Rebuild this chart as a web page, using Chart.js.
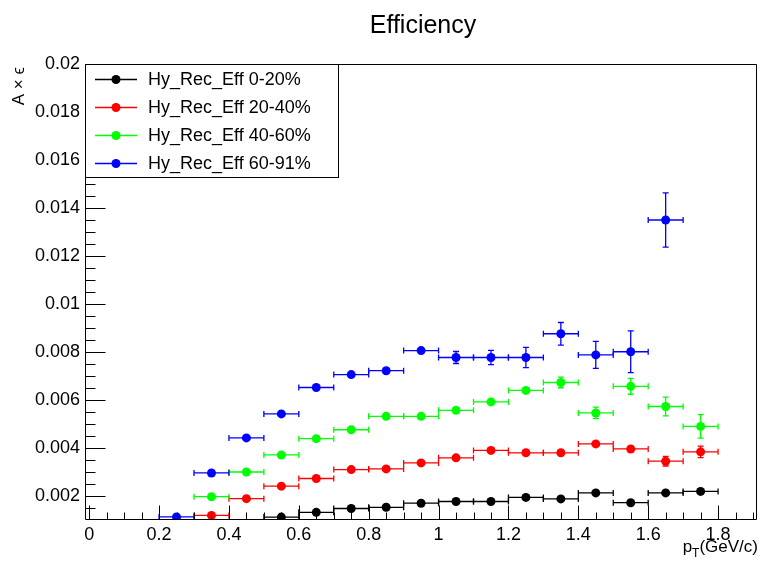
<!DOCTYPE html>
<html>
<head>
<meta charset="utf-8">
<script src="https://cdn.jsdelivr.net/npm/chart.js@4/dist/chart.umd.min.js"></script>
<style>
  html, body { margin: 0; padding: 0; background: #ffffff; }
  #wrap { width: 761px; height: 563px; }
</style>
</head>
<body>
<div id="wrap"><canvas id="c" width="761" height="563"></canvas></div>
<script>
// pT bin centres (GeV/c) and half bin width
const binCenters = [0.25, 0.35, 0.45, 0.55, 0.65, 0.75, 0.85, 0.95, 1.05, 1.15, 1.25, 1.35, 1.45, 1.55, 1.65, 1.75];
const binHalfWidth = 0.05;

// Series names per centrality class
const seriesLabels = ["Hy_Rec_Eff 0-20%", "Hy_Rec_Eff 20-40%", "Hy_Rec_Eff 40-60%", "Hy_Rec_Eff 60-91%"];
const seriesColors = ["#000000", "#ff0000", "#00ff00", "#0000ff"];

// Acceptance x efficiency per bin (null = empty bin)
const eff0to20  = [null, null, null, 0.00112, 0.00132, 0.00148, 0.00153, 0.00170, 0.00177, 0.00177, 0.00194, 0.00188, 0.00213, 0.00172, 0.00213, 0.00219];
const eff20to40 = [null, 0.00119, 0.00189, 0.00241, 0.00273, 0.00310, 0.00313, 0.00338, 0.00359, 0.00390, 0.00380, 0.00380, 0.00417, 0.00396, 0.00345, 0.00384];
const eff40to60 = [null, 0.00197, 0.00300, 0.00371, 0.00439, 0.00476, 0.00532, 0.00532, 0.00557, 0.00592, 0.00640, 0.00673, 0.00546, 0.00657, 0.00573, 0.00490];
const eff60to91 = [0.00113, 0.00296, 0.00442, 0.00542, 0.00652, 0.00706, 0.00722, 0.00806, 0.00777, 0.00777, 0.00777, 0.00876, 0.00788, 0.00801, 0.01350, null];

// Statistical uncertainties on the efficiency
const err0to20  = [null, null, null, 0.00004, 0.00005, 0.00005, 0.00005, 0.00006, 0.00006, 0.00006, 0.00007, 0.00007, 0.00008, 0.00008, 0.00009, 0.00010];
const err20to40 = [null, 0.00005, 0.00007, 0.00008, 0.00009, 0.00010, 0.00010, 0.00011, 0.00012, 0.00013, 0.00013, 0.00014, 0.00016, 0.00017, 0.00020, 0.00024];
const err40to60 = [null, 0.00007, 0.00008, 0.00009, 0.00010, 0.00011, 0.00012, 0.00012, 0.00013, 0.00014, 0.00017, 0.00022, 0.00024, 0.00033, 0.00039, 0.00049];
const err60to91 = [0.00006, 0.00009, 0.00011, 0.00012, 0.00014, 0.00015, 0.00016, 0.00018, 0.00025, 0.00030, 0.00042, 0.00047, 0.00056, 0.00087, 0.00113, null];

// Axis ticks
const xTickValues = [0, 0.2, 0.4, 0.6, 0.8, 1.0, 1.2, 1.4, 1.6, 1.8];
const xTickLabels = ["0", "0.2", "0.4", "0.6", "0.8", "1", "1.2", "1.4", "1.6", "1.8"];
const yTickValues = [0.002, 0.004, 0.006, 0.008, 0.010, 0.012, 0.014, 0.016, 0.018, 0.020];
const yTickLabels = ["0.002", "0.004", "0.006", "0.008", "0.01", "0.012", "0.014", "0.016", "0.018", "0.02"];

const FONT = "'Liberation Sans', Arial, Helvetica, sans-serif";
const MARKER_R = 4.5;

function buildPoints(vals, errs) {
  const pts = [];
  binCenters.forEach((x, i) => {
    if (vals[i] !== null) pts.push({ x: x, y: vals[i], yErr: errs[i] });
  });
  return pts;
}

const valueSets = [eff0to20, eff20to40, eff40to60, eff60to91];
const errorSets = [err0to20, err20to40, err40to60, err60to91];

const datasets = seriesLabels.map((label, k) => ({
  label: label,
  data: buildPoints(valueSets[k], errorSets[k]),
  showLine: false,
  pointRadius: MARKER_R,
  pointHoverRadius: MARKER_R,
  pointBackgroundColor: seriesColors[k],
  pointBorderColor: seriesColors[k],
  pointBorderWidth: 0,
  borderColor: seriesColors[k],
  backgroundColor: seriesColors[k]
}));

// Horizontal (bin width) and vertical (uncertainty) error bars with end caps
const errorBars = {
  id: 'errorBars',
  beforeDatasetsDraw(chart) {
    const ctx = chart.ctx, xs = chart.scales.x, ys = chart.scales.y;
    ctx.save();
    ctx.lineWidth = 1.3;
    chart.data.datasets.forEach(ds => {
      ctx.strokeStyle = ds.borderColor;
      ds.data.forEach(p => {
        const px = xs.getPixelForValue(p.x);
        const py = ys.getPixelForValue(p.y);
        const x0 = xs.getPixelForValue(p.x - binHalfWidth);
        const x1 = xs.getPixelForValue(p.x + binHalfWidth);
        ctx.beginPath();
        ctx.moveTo(x0, py); ctx.lineTo(x1, py);
        ctx.moveTo(x0, py - 3); ctx.lineTo(x0, py + 3);
        ctx.moveTo(x1, py - 3); ctx.lineTo(x1, py + 3);
        ctx.stroke();
        if (p.yErr !== null) {
          const yt = ys.getPixelForValue(p.y + p.yErr);
          const yb = ys.getPixelForValue(p.y - p.yErr);
          if (py - yt > MARKER_R) {
            ctx.beginPath();
            ctx.moveTo(px, yt); ctx.lineTo(px, yb);
            ctx.moveTo(px - 3, yt); ctx.lineTo(px + 3, yt);
            ctx.moveTo(px - 3, yb); ctx.lineTo(px + 3, yb);
            ctx.stroke();
          }
        }
      });
    });
    ctx.restore();
  }
};

// Frame, inward tick marks, titles and legend box
const decorations = {
  id: 'decorations',
  afterDraw(chart) {
    const ctx = chart.ctx, xs = chart.scales.x, ys = chart.scales.y;
    const a = chart.chartArea;
    const L = Math.round(a.left) + 0.5, R = Math.round(a.right) - 0.5;
    const T = Math.round(a.top) + 0.5, B = Math.round(a.bottom) - 0.5;
    ctx.save();
    ctx.strokeStyle = '#000';
    ctx.lineWidth = 1;
    ctx.beginPath();
    ctx.rect(L, T, R - L, B - T);
    ctx.stroke();

    // y ticks: majors every 0.002, minors every 0.0005
    ctx.beginPath();
    for (let k = 2; k <= 40; k++) {
      const v = k * 0.0005;
      if (v <= ys.min + 1e-9 || v > ys.max + 1e-9) continue;
      const y = Math.round(ys.getPixelForValue(v)) + 0.5;
      const len = (k % 4 === 0) ? 20 : 10;
      ctx.moveTo(L, y); ctx.lineTo(L + len, y);
    }
    // x ticks: majors every 0.2, minors every 0.05
    for (let k = 0; k <= 38; k++) {
      const v = k * 0.05;
      if (v < xs.min || v > xs.max) continue;
      const x = Math.round(xs.getPixelForValue(v)) + 0.5;
      const len = (k % 4 === 0) ? 14 : 7;
      ctx.moveTo(x, B); ctx.lineTo(x, B - len);
    }
    ctx.stroke();

    // Title
    ctx.fillStyle = '#000';
    ctx.font = '25px ' + FONT;
    ctx.textAlign = 'center';
    ctx.textBaseline = 'alphabetic';
    ctx.fillText('Efficiency', 423, 33);

    // x-axis title with subscript
    ctx.textAlign = 'left';
    const part1 = 'p', part3 = '(GeV/c)';
    ctx.font = '12px ' + FONT;
    const wSub = ctx.measureText('T').width;
    ctx.font = '17px ' + FONT;
    const w1 = ctx.measureText(part1).width, w3 = ctx.measureText(part3).width;
    const xStart = 758 - (w1 + wSub + w3);
    const base = 552;
    ctx.fillText(part1, xStart, base);
    ctx.font = '12px ' + FONT;
    ctx.fillText('T', xStart + w1, base + 5);
    ctx.font = '17px ' + FONT;
    ctx.fillText(part3, xStart + w1 + wSub, base);

    // y-axis title, rotated
    ctx.save();
    ctx.translate(19, 67);
    ctx.rotate(-Math.PI / 2);
    ctx.textAlign = 'right';
    ctx.textBaseline = 'middle';
    ctx.font = '17px ' + FONT;
    ctx.fillText('A \u00d7 \u03f5', 0, 0);
    ctx.restore();

    // Legend
    const lx0 = L, ly0 = T, lx1 = 338.5, ly1 = 177.5;
    ctx.fillStyle = '#fff';
    ctx.fillRect(lx0, ly0, lx1 - lx0, ly1 - ly0);
    ctx.strokeStyle = '#000';
    ctx.lineWidth = 1;
    ctx.strokeRect(lx0, ly0, lx1 - lx0, ly1 - ly0);
    const rowY = [79.5, 107.5, 135.5, 163.5];
    chart.data.datasets.forEach((ds, i) => {
      const y = rowY[i];
      ctx.strokeStyle = ds.borderColor;
      ctx.lineWidth = 1.3;
      ctx.beginPath();
      ctx.moveTo(95, y); ctx.lineTo(137, y);
      ctx.stroke();
      ctx.fillStyle = ds.borderColor;
      ctx.beginPath();
      ctx.arc(116, y, MARKER_R, 0, Math.PI * 2);
      ctx.fill();
      ctx.fillStyle = '#000';
      ctx.font = '18px ' + FONT;
      ctx.textAlign = 'left';
      ctx.textBaseline = 'middle';
      ctx.fillText(ds.label, 148, y + 1);
    });
    ctx.restore();
  }
};

Chart.defaults.font.family = FONT;
Chart.defaults.color = '#000';

new Chart(document.getElementById('c'), {
  type: 'scatter',
  data: { datasets: datasets },
  options: {
    responsive: false,
    animation: false,
    devicePixelRatio: 1,
    layout: { padding: { top: 64, right: 3, left: 0, bottom: 0 } },
    plugins: { legend: { display: false }, tooltip: { enabled: false }, title: { display: false } },
    scales: {
      x: {
        type: 'linear',
        min: -0.012,
        max: 1.91,
        grid: { display: false, drawTicks: false },
        border: { display: false },
        afterFit(scale) { scale.height = 43; },
        afterBuildTicks(scale) { scale.ticks = xTickValues.map(v => ({ value: v })); },
        ticks: {
          autoSkip: false,
          maxRotation: 0,
          padding: 4,
          font: { size: 18, family: FONT },
          color: '#000',
          callback: (v, i) => xTickLabels[i]
        }
      },
      y: {
        type: 'linear',
        min: 0.001,
        max: 0.02,
        grid: { display: false, drawTicks: false },
        border: { display: false },
        afterFit(scale) { scale.width = 85; },
        afterBuildTicks(scale) { scale.ticks = yTickValues.map(v => ({ value: v })); },
        ticks: {
          autoSkip: false,
          padding: 5,
          font: { size: 18, family: FONT },
          color: '#000',
          callback: (v, i) => yTickLabels[i]
        }
      }
    }
  },
  plugins: [errorBars, decorations]
});
</script>
</body>
</html>
